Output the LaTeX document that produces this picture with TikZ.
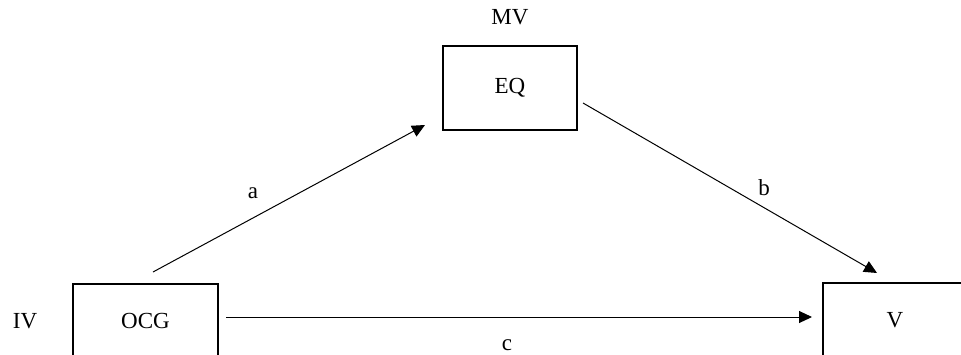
\documentclass[tikz,border=0pt]{standalone}
\usepackage{fontspec}
\setmainfont{Liberation Serif}
\usetikzlibrary{arrows.meta}
\begin{document}
\begin{tikzpicture}[x=0.5pt,y=-0.5pt,
  font=\fontsize{11.5}{13}\selectfont,
  box/.style={draw, line width=0.6pt, rectangle, inner sep=0pt, minimum height=42pt},
  lbl/.style={inner sep=0pt},
  arr/.style={line width=0.5pt, -{Triangle[length=6.5pt,width=6pt]}}]
\useasboundingbox (0,0) rectangle (961,354);
\clip (0,0) rectangle (961,354);
\node[box, minimum width=67pt] (eq) at (510,88) {EQ};
\node[box, minimum width=72.5pt] (ocg) at (145.5,326) {};
\node[lbl] (ocgt) at (145.5,321) {OCG};
\node[box, minimum width=72pt] (v) at (895,325) {};
\node[lbl] (vt) at (895,320) {V};
\node[lbl] (mv) at (510,17) {MV};
\node[lbl] (iv) at (25,321) {IV};
\node[lbl] (la) at (253,193) {a};
\node[lbl] (lb) at (764,188) {b};
\node[lbl] (lc) at (507,345) {c};
\coordinate (a1) at (153,272);
\coordinate (a2) at (425,125);
\coordinate (b1) at (583,103);
\coordinate (b2) at (877,273);
\coordinate (c1) at (226,317);
\coordinate (c2) at (812,317);
\draw[arr] (a1) -- (a2);
\draw[arr] (b1) -- (b2);
\draw[arr] (c1) -- (c2);
\end{tikzpicture}
\end{document}
